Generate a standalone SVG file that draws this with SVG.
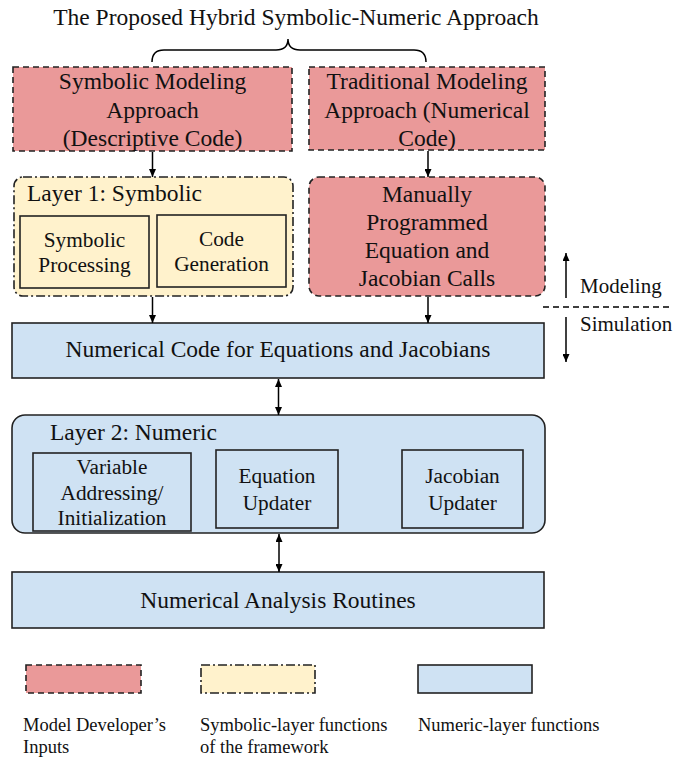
<svg xmlns="http://www.w3.org/2000/svg" width="689" height="760" viewBox="0 0 689 760" font-family="'Liberation Serif', 'Times New Roman', serif">
<defs>
<marker id="ah" viewBox="0 0 8 7" refX="8" refY="3.5" markerWidth="8" markerHeight="7" markerUnits="userSpaceOnUse" orient="auto-start-reverse">
<path d="M0,0 L8,3.5 L0,7 z" fill="#000"/>
</marker>
<style>
.t,.ti,.s,.lg,.tl{font-family:'Liberation Serif','Times New Roman',serif;fill:#111;}
.t{font-size:23.5px;text-anchor:middle;}
.tl{font-size:23.5px;}
.ti{font-size:21.3px;text-anchor:middle;}
.s{font-size:21px;}
.lg{font-size:18.5px;}
.red{fill:#EA9999;stroke:#222;stroke-width:1.6;stroke-dasharray:6 4;}
.yel{fill:#FFF2CC;stroke:#222;stroke-width:1.6;stroke-dasharray:9 3 2 3;}
.yin{fill:#FFF2CC;stroke:#222;stroke-width:1.6;}
.blue{fill:#CFE2F3;stroke:#222;stroke-width:1.6;}
.c{stroke:#000;stroke-width:1.5;fill:none;}
</style>
</defs>
<rect width="689" height="760" fill="#fff"/>
<text class="t" x="296" y="25">The Proposed Hybrid Symbolic-Numeric Approach</text>
<path class="c" d="M152,62 Q152,50 164,50 L276,50 Q288,50 288,39 Q288,50 300,50 L414,50 Q426,50 426,62"/>

<g id="symbolic-modeling">
<rect class="red" x="13" y="67" width="279" height="84"/>
<text class="t" x="152.5" y="89">Symbolic Modeling</text>
<text class="t" x="152.5" y="118">Approach</text>
<text class="t" x="152.5" y="146">(Descriptive Code)</text>
</g>
<g id="traditional-modeling">
<rect class="red" x="309" y="67" width="236" height="83"/>
<text class="t" x="427" y="89">Traditional Modeling</text>
<text class="t" x="427" y="118">Approach (Numerical</text>
<text class="t" x="427" y="146">Code)</text>
</g>
<g id="layer1">
<rect class="yel" x="14" y="177" width="279" height="119" rx="9"/>
<text class="tl" x="27" y="201">Layer 1: Symbolic</text>
</g>
<g id="symbolic-processing">
<rect class="yin" x="20" y="216" width="129" height="72"/>
<text class="ti" x="84.5" y="247">Symbolic</text>
<text class="ti" x="84.5" y="272">Processing</text>
</g>
<g id="code-generation">
<rect class="yin" x="157" y="215" width="129" height="72"/>
<text class="ti" x="221.5" y="246">Code</text>
<text class="ti" x="221.5" y="271">Generation</text>
</g>
<g id="manual">
<rect class="red" x="309" y="177" width="236" height="119" rx="10"/>
<text class="t" x="427" y="202">Manually</text>
<text class="t" x="427" y="230">Programmed</text>
<text class="t" x="427" y="258">Equation and</text>
<text class="t" x="427" y="286">Jacobian Calls</text>
</g>
<g id="numerical-code">
<rect class="blue" x="12" y="323" width="532" height="55"/>
<text class="t" x="278" y="357">Numerical Code for Equations and Jacobians</text>
</g>
<g id="layer2">
<rect class="blue" x="12" y="415" width="533" height="118" rx="13"/>
<text class="tl" x="50" y="440">Layer 2: Numeric</text>
</g>
<g id="variable">
<rect class="blue" x="33" y="453" width="158" height="78"/>
<text class="ti" x="112" y="474">Variable</text>
<text class="ti" x="112" y="500">Addressing/</text>
<text class="ti" x="112" y="525">Initialization</text>
</g>
<g id="equation-updater">
<rect class="blue" x="216" y="450" width="122" height="78"/>
<text class="ti" x="277" y="483">Equation</text>
<text class="ti" x="277" y="510">Updater</text>
</g>
<g id="jacobian-updater">
<rect class="blue" x="402" y="450" width="121" height="78"/>
<text class="ti" x="462.5" y="483">Jacobian</text>
<text class="ti" x="462.5" y="510">Updater</text>
</g>
<g id="analysis">
<rect class="blue" x="12" y="572" width="532" height="56"/>
<text class="t" x="278" y="608">Numerical Analysis Routines</text>
</g>

<g id="connectors">
<line class="c" x1="152.5" y1="152" x2="152.5" y2="177" marker-end="url(#ah)"/>
<line class="c" x1="428" y1="151" x2="428" y2="177" marker-end="url(#ah)"/>
<line class="c" x1="152.5" y1="297" x2="152.5" y2="323" marker-end="url(#ah)"/>
<line class="c" x1="428" y1="297" x2="428" y2="323" marker-end="url(#ah)"/>
<line class="c" x1="278.5" y1="379" x2="278.5" y2="415" marker-start="url(#ah)" marker-end="url(#ah)"/>
<line class="c" x1="279" y1="534" x2="279" y2="572" marker-start="url(#ah)" marker-end="url(#ah)"/>
<line class="c" x1="566" y1="298" x2="566" y2="253" marker-end="url(#ah)"/>
<line class="c" x1="566" y1="317" x2="566" y2="362" marker-end="url(#ah)"/>
<line class="c" x1="543" y1="307" x2="670" y2="307" style="stroke-dasharray:6 4"/>
</g>
<text class="s" x="580" y="293">Modeling</text>
<text class="s" x="580" y="331">Simulation</text>

<g id="legend">
<rect class="red" x="26" y="665" width="115" height="28"/>
<rect class="yel" x="201" y="665" width="114" height="28"/>
<rect class="blue" x="418" y="665" width="114" height="28"/>
<text class="lg" x="23" y="731">Model Developer’s</text>
<text class="lg" x="23" y="753">Inputs</text>
<text class="lg" x="200" y="731">Symbolic-layer functions</text>
<text class="lg" x="200" y="753">of the framework</text>
<text class="lg" x="418" y="731">Numeric-layer functions</text>
</g>
</svg>
